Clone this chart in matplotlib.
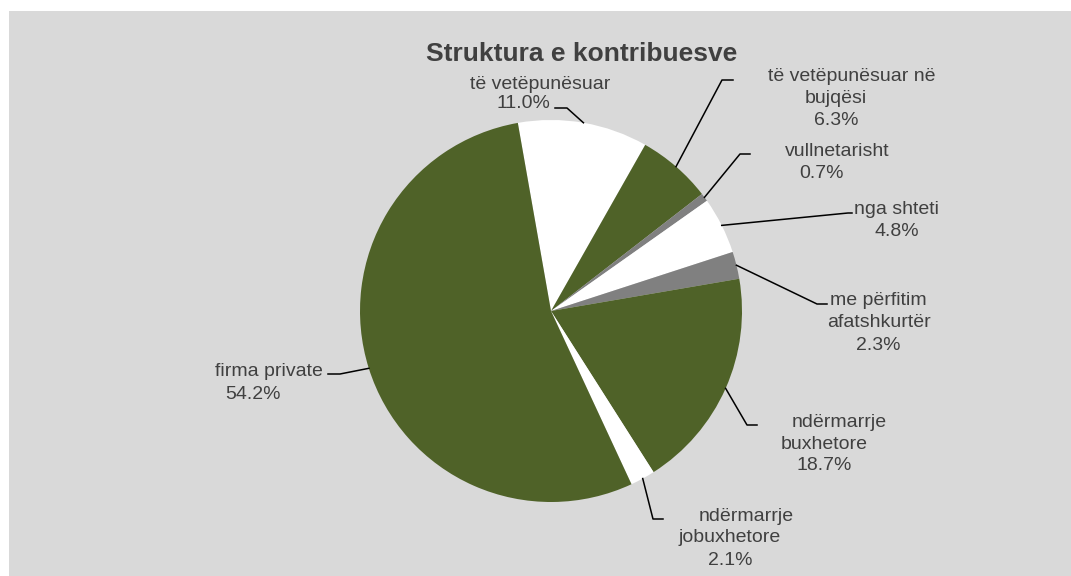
import matplotlib.pyplot as plt
import matplotlib.patches as mpatches
from matplotlib.lines import Line2D
import numpy as np

plt.rcParams['font.family'] = ['Liberation Sans', 'DejaVu Sans']

# --------------------------
# data
# --------------------------
categories = ['të vetëpunësuar', 'të vetëpunësuar në\nbujqësi', 'vullnetarisht', 'nga shteti',
              'me përfitim\nafatshkurtër', 'ndërmarrje\nbuxhetore', 'ndërmarrje\njobuxhetore', 'firma private']
shares = [11.0, 6.3, 0.7, 4.8, 2.3, 18.7, 2.1, 54.2]

green = '#4f6228'
grey = '#808080'
white = '#ffffff'
slice_colors = [white, green, grey, white, grey, green, white, green]

title = 'Struktura e kontribuesve'

# label layout in image pixels: centre x / cap-centre y of each text line, leader elbow and end
text_pos = [
    [(540, 82), (523, 101)],
    [(852, 74), (836, 96), (836, 118)],
    [(837, 149), (821, 171)],
    [(897, 207), (897, 229)],
    [(878, 298), (879, 320), (878, 343)],
    [(839, 420), (824, 442), (824, 463)],
    [(746, 514), (730, 535), (730, 558)],
    [(269, 369), (253, 392)],
]
leaders = [
    [(567, 108), (555, 108)],
    [(722, 80), (733, 80)],
    [(740, 154), (750, 154)],
    [(848, 213), (852, 213)],
    [(817, 304), (827, 304)],
    [(747, 425), (757, 425)],
    [(653, 519), (663, 519)],
    [(340, 374), (328, 374)],
]

W, H = 1071, 576
fig = plt.figure(figsize=(W / 100, H / 100), dpi=100, facecolor='white')
fig.add_artist(mpatches.Rectangle((9 / W, 0), 1 - 9 / W, 1 - 11 / H, transform=fig.transFigure,
                                  facecolor='#d9d9d9', edgecolor='none', zorder=0))

def fx(p):
    return (p[0] / W, 1 - p[1] / H)

cx, cy, r = 551, 311, 191
ax = fig.add_axes([(cx - r) / W, (H - cy - r) / H, 2 * r / W, 2 * r / H])
wedges, _ = ax.pie(shares, colors=slice_colors, startangle=100, counterclock=False,
                   radius=1, wedgeprops=dict(linewidth=0))
ax.set_xlim(-1, 1)
ax.set_ylim(-1, 1)
ax.axis('off')

fig.canvas.draw()
to_fig = fig.transFigure.inverted()

for w, name, val, lines_pos, lead in zip(wedges, categories, shares, text_pos, leaders):
    mid = np.deg2rad((w.theta1 + w.theta2) / 2)
    start = to_fig.transform(ax.transData.transform((np.cos(mid), np.sin(mid))))
    pts = [start] + [fx(p) for p in lead]
    xs, ys = zip(*pts)
    fig.add_artist(Line2D(xs, ys, color='black', linewidth=1.1, transform=fig.transFigure))
    txt = name.split('\n') + [f'{val:.1f}%']
    for s, (tx, ty) in zip(txt, lines_pos):
        fig.text(tx / W, 1 - (ty + 7) / H, s, ha='center', va='baseline', fontsize=14, color='#404040')

fig.text(582 / W, 1 - 61 / H, title, ha='center', va='baseline', fontsize=19,
         fontweight='bold', color='#404040')

plt.savefig('out.png', dpi=100)
